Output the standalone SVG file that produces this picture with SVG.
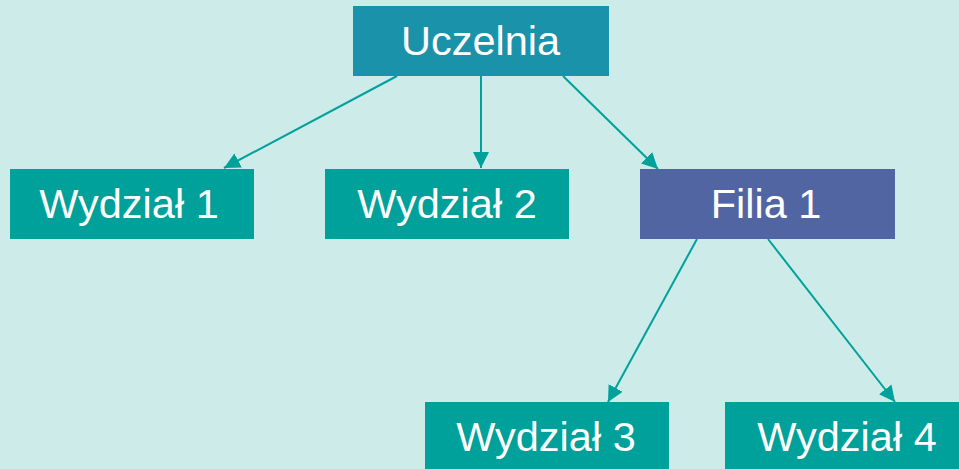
<svg xmlns="http://www.w3.org/2000/svg" width="959" height="469" viewBox="0 0 959 469">
<style>
.t{font-family:"Liberation Sans",Arial,sans-serif;font-size:41.5px;fill:#fff;text-anchor:middle}
.w{fill:#00A19A}
.c{stroke:#00A19A;stroke-width:2;fill:none;marker-end:url(#ah)}
</style>
<defs>
<marker id="ah" viewBox="0 0 10 10" refX="10" refY="5" markerWidth="8" markerHeight="8" markerUnits="strokeWidth" orient="auto">
<path d="M0,0 L10,5 L0,10 z" fill="#00A19A"/>
</marker>
</defs>
<rect width="959" height="469" fill="#CCEBE9"/>
<g id="connectors">
<line class="c" x1="397" y1="76" x2="224" y2="168"/>
<line class="c" x1="481" y1="76" x2="481" y2="168"/>
<line class="c" x1="563" y1="76" x2="658" y2="169"/>
<line class="c" x1="697" y1="239" x2="608" y2="402"/>
<line class="c" x1="768" y1="239" x2="895" y2="402"/>
</g>
<g id="uczelnia"><rect x="353" y="6" width="256" height="70" fill="#1A93AA"/><text class="t" x="480.5" y="55">Uczelnia</text></g>
<g id="wydzial1"><rect class="w" x="10" y="169" width="244" height="70"/><text class="t" x="129" y="218">Wydział 1</text></g>
<g id="wydzial2"><rect class="w" x="325" y="169" width="244" height="70"/><text class="t" x="447" y="218">Wydział 2</text></g>
<g id="filia1"><rect x="640" y="169" width="255" height="70" fill="#5165A3"/><text class="t" x="766" y="218">Filia 1</text></g>
<g id="wydzial3"><rect class="w" x="425" y="402" width="244" height="70"/><text class="t" x="546" y="451">Wydział 3</text></g>
<g id="wydzial4"><rect class="w" x="725" y="402" width="244" height="70"/><text class="t" x="847" y="451">Wydział 4</text></g>
</svg>
